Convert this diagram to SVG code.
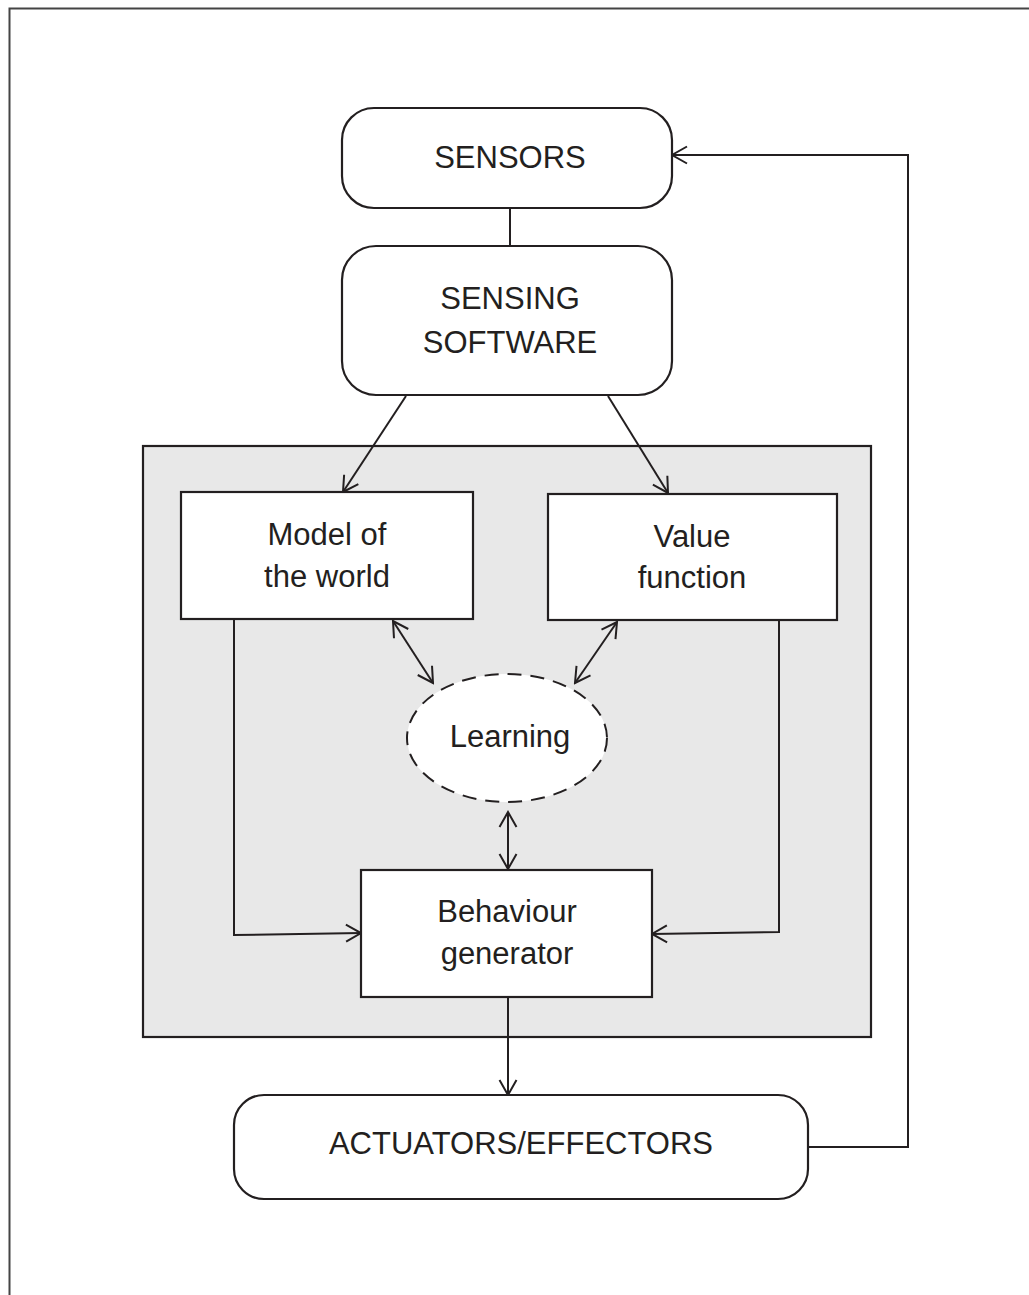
<svg xmlns="http://www.w3.org/2000/svg" width="1029" height="1295" viewBox="0 0 1029 1295">
  <style>
    .box { fill: #ffffff; stroke: #231f20; stroke-width: 2.2; }
    .line { fill: none; stroke: #231f20; stroke-width: 2; }
    .lbl { font-family: "Liberation Sans", Arial, sans-serif; font-size: 31px; fill: #231f20; text-anchor: middle; }
  </style>
  <defs>
    <marker id="arr" viewBox="-16 -10 18 20" markerWidth="18" markerHeight="20" refX="0" refY="0" markerUnits="userSpaceOnUse" orient="auto-start-reverse">
      <path d="M-15,-8.5 L0,0 L-15,8.5" fill="none" stroke="#231f20" stroke-width="2"/>
    </marker>
  </defs>

  <rect width="1029" height="1295" fill="#ffffff"/>
  <!-- page frame -->
  <path d="M9.5,1295 V8.5 H1029" fill="none" stroke="#444444" stroke-width="2"/>

  <!-- shaded control region -->
  <rect id="control-region" x="143" y="446" width="728" height="591" fill="#e8e8e8" stroke="#231f20" stroke-width="2.2"/>

  <g id="connectors">
    <line class="line" x1="510" y1="208" x2="510" y2="246"/>
    <line class="line" x1="406" y1="396" x2="343" y2="492" marker-end="url(#arr)"/>
    <line class="line" x1="608" y1="396" x2="668" y2="493" marker-end="url(#arr)"/>
    <line class="line" x1="393" y1="621" x2="433" y2="683" marker-start="url(#arr)" marker-end="url(#arr)"/>
    <line class="line" x1="617" y1="622" x2="575" y2="683" marker-start="url(#arr)" marker-end="url(#arr)"/>
    <line class="line" x1="508" y1="812" x2="508" y2="869" marker-start="url(#arr)" marker-end="url(#arr)"/>
    <polyline class="line" points="234,619 234,935 361,933" marker-end="url(#arr)"/>
    <polyline class="line" points="779,620 779,932 652,934" marker-end="url(#arr)"/>
    <line class="line" x1="508" y1="997" x2="508" y2="1095" marker-end="url(#arr)"/>
    <polyline class="line" points="808,1147 908,1147 908,155 672,155" marker-end="url(#arr)"/>
  </g>

  <g id="sensors">
    <rect class="box" x="342" y="108" width="330" height="100" rx="32"/>
    <text class="lbl" x="510" y="168">SENSORS</text>
  </g>

  <g id="sensing-software">
    <rect class="box" x="342" y="246" width="330" height="149" rx="34"/>
    <text class="lbl" x="510" y="309">SENSING</text>
    <text class="lbl" x="510" y="353">SOFTWARE</text>
  </g>

  <g id="model-of-world">
    <rect class="box" x="181" y="492" width="292" height="127"/>
    <text class="lbl" x="327" y="545">Model of</text>
    <text class="lbl" x="327" y="587">the world</text>
  </g>

  <g id="value-function">
    <rect class="box" x="548" y="494" width="289" height="126"/>
    <text class="lbl" x="692" y="547">Value</text>
    <text class="lbl" x="692" y="588">function</text>
  </g>

  <g id="learning">
    <ellipse cx="507" cy="738" rx="100" ry="64" fill="#ffffff" stroke="#231f20" stroke-width="2" stroke-dasharray="14 9"/>
    <text class="lbl" x="510" y="747">Learning</text>
  </g>

  <g id="behaviour-generator">
    <rect class="box" x="361" y="870" width="291" height="127"/>
    <text class="lbl" x="507" y="922">Behaviour</text>
    <text class="lbl" x="507" y="964">generator</text>
  </g>

  <g id="actuators-effectors">
    <rect class="box" x="234" y="1095" width="574" height="104" rx="30"/>
    <text class="lbl" x="521" y="1154">ACTUATORS/EFFECTORS</text>
  </g>
</svg>
